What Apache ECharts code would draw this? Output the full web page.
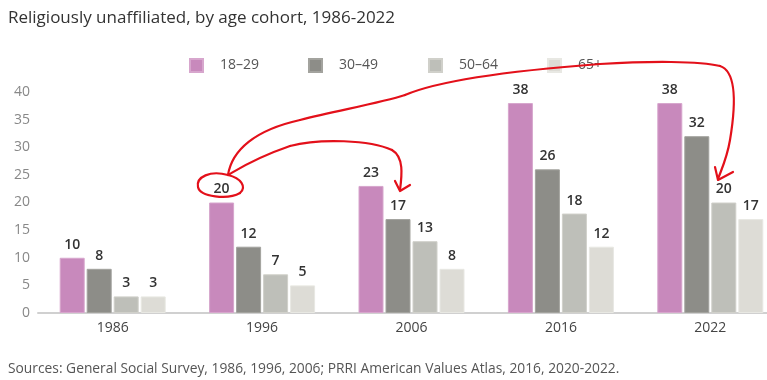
<!DOCTYPE html>
<html><head><meta charset="utf-8">
<script src="https://cdn.jsdelivr.net/npm/echarts@6/dist/echarts.min.js"></script>
<style>html,body{margin:0;padding:0;background:#fff}#c{width:767px;height:380px}</style>
</head><body><div id="c"></div>
<script>
const categories = ['1986','1996','2006','2016','2022'];
const age18_29 = [10, 20, 23, 38, 38];
const age30_49 = [8, 12, 17, 26, 32];
const age50_64 = [3, 7, 13, 18, 20];
const age65p = [3, 5, 8, 12, 17];
const seriesNames = ['18–29','30–49','50–64','65+'];
const yTicks = {min:0, max:40, interval:5};

const colors = ['#c889bc','#8d8d88','#bebfb9','#dddcd6'];
const borders = ['#d7a6cd','#a3a39e','#d0d0ca','#e8e8e3'];
const FONT = '"Open Sans", "Noto Sans", sans-serif';
const dataSets = [age18_29, age30_49, age50_64, age65p];
const legendLeft = [184, 303, 423, 542];

const red = '#e3101a';
// hand-drawn annotation strokes (cubic segments: start, cp1, cp2, end)
const annotationCurves = [
  [[228,175],[210,170],[196,177],[198,187]],
  [[198,187],[200,197],[228,200],[240,193]],
  [[240,193],[247,187],[241,178],[228,175]],
  [[228,175],[240,168],[255,158],[290,146]],
  [[290,146],[320,138],[370,140],[392,150]],
  [[392,150],[404,157],[402,175],[400,190]],
  [[228,175],[232,150],[255,130],[300,120]],
  [[300,120],[340,110],[380,103],[405,95]],
  [[405,95],[440,80],[520,70],[600,64]],
  [[600,64],[650,61],[700,61],[720,66]],
  [[720,66],[738,72],[735,110],[730,140]],
  [[730,140],[727,158],[722,168],[718,179]]
];
const arrowHeads = [
  [[395,181],[400,191],[410,185]],
  [[715,167],[718,180],[733,172]]
];
const graphics = annotationCurves.map(c=>({type:'bezierCurve', silent:true, z:100,
  shape:{x1:c[0][0],y1:c[0][1],cpx1:c[1][0],cpy1:c[1][1],cpx2:c[2][0],cpy2:c[2][1],x2:c[3][0],y2:c[3][1]},
  style:{fill:null, stroke:red, lineWidth:2.2, lineCap:'round'}}))
  .concat(arrowHeads.map(p=>({type:'polyline', silent:true, z:100, shape:{points:p},
  style:{fill:null, stroke:red, lineWidth:2.2, lineCap:'round', lineJoin:'round'}})));
graphics.push({type:'text', left:8, top:362, style:{text:'Sources: General Social Survey, 1986, 1996, 2006; PRRI American Values Atlas, 2016, 2020-2022.', font:'13.8px "Open Sans", sans-serif', fill:'#555'}});

const chart = echarts.init(document.getElementById('c'), null, {renderer:'canvas'});
chart.setOption({
  animation:false,
  color: colors,
  title:{text:'Religiously unaffiliated, by age cohort, 1986-2022', left:3, top:5,
    textStyle:{fontFamily:FONT, fontSize:17, fontWeight:'normal', color:'#333'}},
  legend: seriesNames.map((n,i)=>({data:[n], left:legendLeft[i], top:53, itemWidth:13, itemHeight:13, icon:'rect',
    textStyle:{fontFamily:FONT, fontSize:14, color:'#555', padding:[0,0,0,12]}})),
  grid:{left:38, top:92, width:747, height:221, containLabel:false, outerBoundsMode:'none'},
  xAxis:{type:'category', data:categories,
    axisLine:{lineStyle:{color:'#d0d0d0', width:2}}, axisTick:{show:false},
    axisLabel:{fontFamily:FONT, fontSize:14, color:'#444', margin:8}},
  yAxis:{type:'value', min:yTicks.min, max:yTicks.max, interval:yTicks.interval,
    axisLine:{show:false}, axisTick:{show:false}, splitLine:{show:false},
    axisLabel:{fontFamily:FONT, fontSize:14, color:'#888', margin:8}},
  series: dataSets.map((d,i)=>({type:'bar', name:seriesNames[i], data:d, barWidth:25, barGap:'8%',
    itemStyle:{color:colors[i], borderColor:borders[i], borderWidth:1},
    label:{show:true, position:'top', distance:6, fontFamily:FONT, fontSize:14, fontWeight:600, color:'#333'}})),
  graphic: graphics
});
</script></body></html>
